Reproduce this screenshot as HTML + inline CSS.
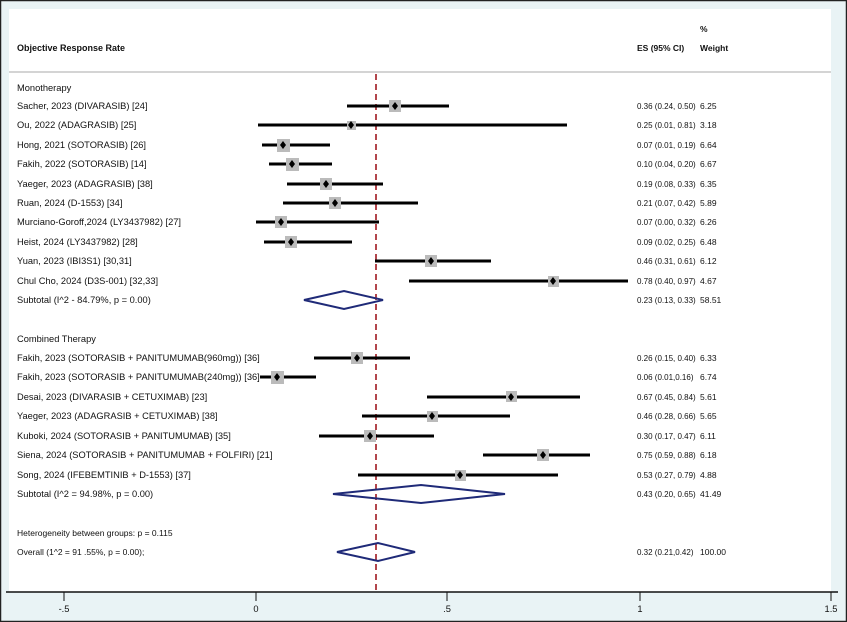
<!DOCTYPE html>
<html><head><meta charset="utf-8"><style>
html,body{margin:0;padding:0;background:#e9f3f5;}
svg{display:block;font-family:"Liberation Sans",sans-serif;}
text{font-size:9.3px;fill:#111;}
text[x="637"]{font-size:8px;}
text[x="700"]{font-size:8.5px;}
</style></head><body>
<svg width="847" height="622" viewBox="0 0 847 622" xmlns="http://www.w3.org/2000/svg">
<rect x="0.5" y="0.5" width="846" height="621" fill="#e9f3f5" stroke="#222" stroke-width="1.5"/>
<rect x="9" y="9" width="822" height="583" fill="#fff"/>
<line x1="9" y1="72" x2="831" y2="72" stroke="#bbb" stroke-width="1.2"/>
<text x="17" y="51" font-weight="bold" style="font-size:9px">Objective Response Rate</text>
<text x="637" y="51" font-weight="bold" style="font-size:8.5px">ES (95% CI)</text>
<text x="700" y="32" font-weight="bold">%</text>
<text x="700" y="51" font-weight="bold">Weight</text>
<line x1="376" y1="74" x2="376" y2="592" stroke="#a01820" stroke-width="1.6" stroke-dasharray="6,4"/>
<line x1="6" y1="592" x2="838" y2="592" stroke="#111" stroke-width="1.5"/>
<g stroke="#111" stroke-width="1">
<line x1="64" y1="592" x2="64" y2="601"/><line x1="256" y1="592" x2="256" y2="601"/><line x1="447" y1="592" x2="447" y2="601"/><line x1="640" y1="592" x2="640" y2="601"/><line x1="831" y1="592" x2="831" y2="601"/>
</g>
<g text-anchor="middle">
<text x="64" y="612">-.5</text><text x="256" y="612">0</text><text x="447" y="612">.5</text><text x="640" y="612">1</text><text x="831" y="612">1.5</text>
</g>
<text x="17" y="91">Monotherapy</text>
<text x="17" y="342">Combined Therapy</text>
<text x="17" y="536" style="font-size:8.5px">Heterogeneity between groups: p = 0.115</text>
<text x="17" y="555" style="font-size:8.5px">Overall (1^2 = 91 .55%, p = 0.00);</text>
<text x="637" y="555">0.32 (0.21,0.42)</text><text x="700" y="555">100.00</text>
<text x="17" y="303">Subtotal (I^2 - 84.79%, p = 0.00)</text>
<text x="637" y="303">0.23 (0.13, 0.33)</text><text x="700" y="303">58.51</text>
<text x="17" y="497">Subtotal (I^2 = 94.98%, p = 0.00)</text>
<text x="637" y="497">0.43 (0.20, 0.65)</text><text x="700" y="497">41.49</text>
<g fill="none" stroke="#1f2a78" stroke-width="2">
<polygon points="304,300 344,291 383,300 344,309"/>
<polygon points="333,494 421,485 505,494 421,503"/>
<polygon points="337,552 378,543 415,552 378,561"/>
</g>
<g>
<line x1="347" y1="106" x2="449" y2="106" stroke="#000" stroke-width="3"/><rect x="389" y="100" width="12" height="12" fill="#bbb"/><polygon points="395,102 398,106 395,110 392,106" fill="#000"/>
<text x="17" y="109">Sacher, 2023 (DIVARASIB) [24]</text><text x="637" y="109">0.36 (0.24, 0.50)</text><text x="700" y="109">6.25</text>

<line x1="258" y1="125" x2="567" y2="125" stroke="#000" stroke-width="3"/><rect x="347" y="121" width="9" height="9" fill="#bbb"/><polygon points="351,121 354,125 351,129 348,125" fill="#000"/>
<text x="17" y="128">Ou, 2022 (ADAGRASIB) [25]</text><text x="637" y="128">0.25 (0.01, 0.81)</text><text x="700" y="128">3.18</text>

<line x1="262" y1="145" x2="330" y2="145" stroke="#000" stroke-width="3"/><rect x="277" y="139" width="13" height="13" fill="#bbb"/><polygon points="283,141 286,145 283,149 280,145" fill="#000"/>
<text x="17" y="148">Hong, 2021 (SOTORASIB) [26]</text><text x="637" y="148">0.07 (0.01, 0.19)</text><text x="700" y="148">6.64</text>

<line x1="269" y1="164" x2="332" y2="164" stroke="#000" stroke-width="3"/><rect x="286" y="158" width="13" height="13" fill="#bbb"/><polygon points="292,160 295,164 292,168 289,164" fill="#000"/>
<text x="17" y="167">Fakih, 2022 (SOTORASIB) [14]</text><text x="637" y="167">0.10 (0.04, 0.20)</text><text x="700" y="167">6.67</text>

<line x1="287" y1="184" x2="383" y2="184" stroke="#000" stroke-width="3"/><rect x="320" y="178" width="12" height="12" fill="#bbb"/><polygon points="326,180 329,184 326,188 323,184" fill="#000"/>
<text x="17" y="187">Yaeger, 2023 (ADAGRASIB) [38]</text><text x="637" y="187">0.19 (0.08, 0.33)</text><text x="700" y="187">6.35</text>

<line x1="283" y1="203" x2="418" y2="203" stroke="#000" stroke-width="3"/><rect x="329" y="197" width="12" height="12" fill="#bbb"/><polygon points="335,199 338,203 335,207 332,203" fill="#000"/>
<text x="17" y="206">Ruan, 2024 (D-1553) [34]</text><text x="637" y="206">0.21 (0.07, 0.42)</text><text x="700" y="206">5.89</text>

<line x1="256" y1="222" x2="379" y2="222" stroke="#000" stroke-width="3"/><rect x="275" y="216" width="12" height="12" fill="#bbb"/><polygon points="281,218 284,222 281,226 278,222" fill="#000"/>
<text x="17" y="225">Murciano-Goroff,2024 (LY3437982) [27]</text><text x="637" y="225">0.07 (0.00, 0.32)</text><text x="700" y="225">6.26</text>

<line x1="264" y1="242" x2="352" y2="242" stroke="#000" stroke-width="3"/><rect x="285" y="236" width="12" height="12" fill="#bbb"/><polygon points="291,238 294,242 291,246 288,242" fill="#000"/>
<text x="17" y="245">Heist, 2024 (LY3437982) [28]</text><text x="637" y="245">0.09 (0.02, 0.25)</text><text x="700" y="245">6.48</text>

<line x1="375" y1="261" x2="491" y2="261" stroke="#000" stroke-width="3"/><rect x="425" y="255" width="12" height="12" fill="#bbb"/><polygon points="431,257 434,261 431,265 428,261" fill="#000"/>
<text x="17" y="264">Yuan, 2023 (IBI3S1) [30,31]</text><text x="637" y="264">0.46 (0.31, 0.61)</text><text x="700" y="264">6.12</text>

<line x1="409" y1="281" x2="628" y2="281" stroke="#000" stroke-width="3"/><rect x="548" y="276" width="11" height="11" fill="#bbb"/><polygon points="553,277 556,281 553,285 550,281" fill="#000"/>
<text x="17" y="284">Chul Cho, 2024 (D3S-001) [32,33]</text><text x="637" y="284">0.78 (0.40, 0.97)</text><text x="700" y="284">4.67</text>

<line x1="314" y1="358" x2="410" y2="358" stroke="#000" stroke-width="3"/><rect x="351" y="352" width="12" height="12" fill="#bbb"/><polygon points="357,354 360,358 357,362 354,358" fill="#000"/>
<text x="17" y="361">Fakih, 2023 (SOTORASIB + PANITUMUMAB(960mg)) [36]</text><text x="637" y="361">0.26 (0.15, 0.40)</text><text x="700" y="361">6.33</text>

<line x1="260" y1="377" x2="316" y2="377" stroke="#000" stroke-width="3"/><rect x="271" y="371" width="13" height="13" fill="#bbb"/><polygon points="277,373 280,377 277,381 274,377" fill="#000"/>
<text x="17" y="380">Fakih, 2023 (SOTORASIB + PANITUMUMAB(240mg)) [36]</text><text x="637" y="380">0.06 (0.01,0.16)</text><text x="700" y="380">6.74</text>

<line x1="427" y1="397" x2="580" y2="397" stroke="#000" stroke-width="3"/><rect x="506" y="391" width="11" height="11" fill="#bbb"/><polygon points="511,393 514,397 511,401 508,397" fill="#000"/>
<text x="17" y="400">Desai, 2023 (DIVARASIB + CETUXIMAB) [23]</text><text x="637" y="400">0.67 (0.45, 0.84)</text><text x="700" y="400">5.61</text>

<line x1="362" y1="416" x2="510" y2="416" stroke="#000" stroke-width="3"/><rect x="427" y="411" width="11" height="11" fill="#bbb"/><polygon points="432,412 435,416 432,420 429,416" fill="#000"/>
<text x="17" y="419">Yaeger, 2023 (ADAGRASIB + CETUXIMAB) [38]</text><text x="637" y="419">0.46 (0.28, 0.66)</text><text x="700" y="419">5.65</text>

<line x1="319" y1="436" x2="434" y2="436" stroke="#000" stroke-width="3"/><rect x="364" y="430" width="12" height="12" fill="#bbb"/><polygon points="370,432 373,436 370,440 367,436" fill="#000"/>
<text x="17" y="439">Kuboki, 2024 (SOTORASIB + PANITUMUMAB) [35]</text><text x="637" y="439">0.30 (0.17, 0.47)</text><text x="700" y="439">6.11</text>

<line x1="483" y1="455" x2="590" y2="455" stroke="#000" stroke-width="3"/><rect x="537" y="449" width="12" height="12" fill="#bbb"/><polygon points="543,451 546,455 543,459 540,455" fill="#000"/>
<text x="17" y="458">Siena, 2024 (SOTORASIB + PANITUMUMAB + FOLFIRI) [21]</text><text x="637" y="458">0.75 (0.59, 0.88)</text><text x="700" y="458">6.18</text>

<line x1="358" y1="475" x2="558" y2="475" stroke="#000" stroke-width="3"/><rect x="455" y="470" width="11" height="11" fill="#bbb"/><polygon points="460,471 463,475 460,479 457,475" fill="#000"/>
<text x="17" y="478">Song, 2024 (IFEBEMTINIB + D-1553) [37]</text><text x="637" y="478">0.53 (0.27, 0.79)</text><text x="700" y="478">4.88</text>
</g>
</svg>
</body></html>
